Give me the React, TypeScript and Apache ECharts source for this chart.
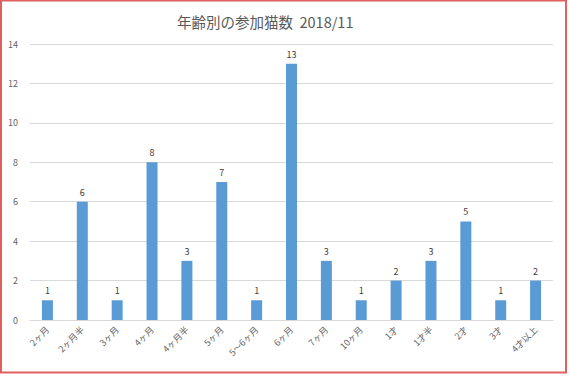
import React, { useEffect, useRef } from "react";
import * as echarts from "echarts";

const categories = ["2ヶ月", "2ヶ月半", "3ヶ月", "4ヶ月", "4ヶ月半", "5ヶ月", "5～6ヶ月", "6ヶ月", "7ヶ月", "10ヶ月", "1才", "1才半", "2才", "3才", "4才以上"];
const counts = [1, 6, 1, 8, 3, 7, 1, 13, 3, 1, 2, 3, 5, 1, 2];
const yTicks = { min: 0, max: 14, interval: 2 };
const titleText = "年齢別の参加猫数\u00a0\u00a02018/11";

export default function App() {
  const ref = useRef<HTMLDivElement>(null);
  useEffect(() => {
    if (!ref.current) return;
    const chart = echarts.init(ref.current, null, { renderer: "svg" });
    const font = "'Noto Sans CJK JP', 'Noto Sans', sans-serif";
    chart.setOption({
      animation: false,
      backgroundColor: "#ffffff",
      title: {
        text: titleText,
        left: 172,
        top: 9,
        textStyle: { fontSize: 14.5, fontWeight: "normal", color: "#595959", fontFamily: font },
      },
      grid: { left: 30, right: 17, top: 44, bottom: 56, containLabel: false },
      xAxis: {
        type: "category",
        data: categories,
        axisLine: { lineStyle: { color: "#d9d9d9" } },
        axisTick: { show: false },
        axisLabel: { rotate: 45, fontSize: 9, color: "#666666", fontFamily: font, interval: 0, margin: 8 },
      },
      yAxis: {
        type: "value",
        min: yTicks.min,
        max: yTicks.max,
        interval: yTicks.interval,
        axisLine: { show: false },
        axisTick: { show: false },
        axisLabel: { fontSize: 9, color: "#666666", fontFamily: font, margin: 12 },
        splitLine: { lineStyle: { color: "#d9d9d9" } },
      },
      series: [
        {
          type: "bar",
          data: counts,
          barWidth: 11,
          itemStyle: { color: "#5b9bd5" },
          label: { show: true, position: "top", fontSize: 9, color: "#404040", fontFamily: font, distance: 5 },
        },
      ],
      graphic: [
        {
          type: "rect",
          shape: { x: 1, y: 0.5, width: 565, height: 372 },
          style: { fill: "none", stroke: "#e06060", lineWidth: 2 },
          silent: true,
        },
      ],
    });
    return () => chart.dispose();
  }, []);
  return <div ref={ref} style={{ position: "fixed", left: 0, top: 0, width: 570, height: 376 }} />;
}
